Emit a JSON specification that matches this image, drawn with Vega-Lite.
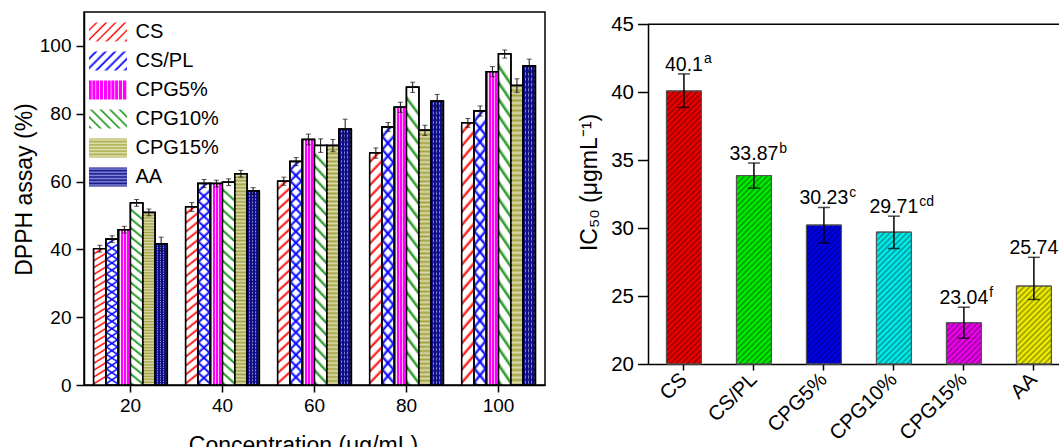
{
"$schema": "https://vega.github.io/schema/vega-lite/v6.json",
"background": "white",
"padding": {"left": 12, "top": 11, "right": 0, "bottom": 0},
"spacing": 32,
"config": {"font": "Liberation Sans", "view": {"stroke": null},
  "axis": {"domainColor": "black", "tickColor": "black", "labelColor": "black", "titleColor": "black", "titleFontWeight": "normal", "grid": false, "domainWidth": 1.5, "tickWidth": 1.5, "labelFont": "Liberation Sans", "titleFont": "Liberation Sans"}},
"params": [
 {"name": "lgCS", "value": {"gradient": "linear", "x1": 0, "y1": 0, "x2": 1.2, "y2": 0.6, "stops": [
   {"offset":0,"color":"#fff"},{"offset":0.1,"color":"#fff"},{"offset":0.14,"color":"#f00"},
   {"offset":0.1667,"color":"#fff"},{"offset":0.2667,"color":"#fff"},{"offset":0.3067,"color":"#f00"},
   {"offset":0.3333,"color":"#fff"},{"offset":0.4333,"color":"#fff"},{"offset":0.4733,"color":"#f00"},
   {"offset":0.5,"color":"#fff"},{"offset":0.6,"color":"#fff"},{"offset":0.64,"color":"#f00"},
   {"offset":0.6667,"color":"#fff"},{"offset":0.7667,"color":"#fff"},{"offset":0.8067,"color":"#f00"},
   {"offset":0.8333,"color":"#fff"},{"offset":0.9333,"color":"#fff"},{"offset":0.9733,"color":"#f00"},
   {"offset":1,"color":"#fff"}]}},
 {"name": "lgCSPL", "value": {"gradient": "linear", "x1": 0, "y1": 0, "x2": 1.2, "y2": 0.6, "stops": [
   {"offset":0,"color":"#fff"},{"offset":0.08,"color":"#fff"},{"offset":0.13,"color":"#00f"},
   {"offset":0.1667,"color":"#fff"},{"offset":0.2467,"color":"#fff"},{"offset":0.2967,"color":"#00f"},
   {"offset":0.3333,"color":"#fff"},{"offset":0.4133,"color":"#fff"},{"offset":0.4633,"color":"#00f"},
   {"offset":0.5,"color":"#fff"},{"offset":0.58,"color":"#fff"},{"offset":0.63,"color":"#00f"},
   {"offset":0.6667,"color":"#fff"},{"offset":0.7467,"color":"#fff"},{"offset":0.7967,"color":"#00f"},
   {"offset":0.8333,"color":"#fff"},{"offset":0.9133,"color":"#fff"},{"offset":0.9633,"color":"#00f"},
   {"offset":1,"color":"#fff"}]}},
 {"name": "lgM", "value": {"gradient": "linear", "x1": 0, "y1": 0, "x2": 1, "y2": 0, "stops": [
   {"offset":0,"color":"#f0f"},{"offset":0.06,"color":"#f0f"},{"offset":0.08,"color":"#fff"},
   {"offset":0.1,"color":"#f0f"},{"offset":0.16,"color":"#f0f"},{"offset":0.18,"color":"#fff"},
   {"offset":0.2,"color":"#f0f"},{"offset":0.26,"color":"#f0f"},{"offset":0.28,"color":"#fff"},
   {"offset":0.3,"color":"#f0f"},{"offset":0.36,"color":"#f0f"},{"offset":0.38,"color":"#fff"},
   {"offset":0.4,"color":"#f0f"},{"offset":0.46,"color":"#f0f"},{"offset":0.48,"color":"#fff"},
   {"offset":0.5,"color":"#f0f"},{"offset":0.56,"color":"#f0f"},{"offset":0.58,"color":"#fff"},
   {"offset":0.6,"color":"#f0f"},{"offset":0.66,"color":"#f0f"},{"offset":0.68,"color":"#fff"},
   {"offset":0.7,"color":"#f0f"},{"offset":0.76,"color":"#f0f"},{"offset":0.78,"color":"#fff"},
   {"offset":0.8,"color":"#f0f"},{"offset":0.86,"color":"#f0f"},{"offset":0.88,"color":"#fff"},
   {"offset":0.9,"color":"#f0f"},{"offset":0.96,"color":"#f0f"},{"offset":0.98,"color":"#fff"},
   {"offset":1,"color":"#f0f"}]}},
 {"name": "lgG", "value": {"gradient": "linear", "x1": 1, "y1": 0, "x2": -0.2, "y2": 0.6, "stops": [
   {"offset":0,"color":"#fff"},{"offset":0.09,"color":"#fff"},{"offset":0.135,"color":"#119011"},
   {"offset":0.1667,"color":"#fff"},{"offset":0.2567,"color":"#fff"},{"offset":0.3017,"color":"#119011"},
   {"offset":0.3333,"color":"#fff"},{"offset":0.4233,"color":"#fff"},{"offset":0.4683,"color":"#119011"},
   {"offset":0.5,"color":"#fff"},{"offset":0.59,"color":"#fff"},{"offset":0.635,"color":"#119011"},
   {"offset":0.6667,"color":"#fff"},{"offset":0.7567,"color":"#fff"},{"offset":0.8017,"color":"#119011"},
   {"offset":0.8333,"color":"#fff"},{"offset":0.9233,"color":"#fff"},{"offset":0.9683,"color":"#119011"},
   {"offset":1,"color":"#fff"}]}},
 {"name": "lgO", "value": {"gradient": "linear", "x1": 0, "y1": 0, "x2": 0, "y2": 1, "stops": [
   {"offset":0,"color":"#a9a943"},{"offset":0.0833,"color":"#e4e4b8"},{"offset":0.1667,"color":"#a9a943"},{"offset":0.25,"color":"#e4e4b8"},
   {"offset":0.3333,"color":"#a9a943"},{"offset":0.4167,"color":"#e4e4b8"},{"offset":0.5,"color":"#a9a943"},{"offset":0.5833,"color":"#e4e4b8"},
   {"offset":0.6667,"color":"#a9a943"},{"offset":0.75,"color":"#e4e4b8"},{"offset":0.8333,"color":"#a9a943"},{"offset":0.9167,"color":"#e4e4b8"},
   {"offset":1,"color":"#a9a943"}]}},
 {"name": "lgN", "value": {"gradient": "linear", "x1": 0, "y1": 0, "x2": 0, "y2": 1, "stops": [
   {"offset":0,"color":"#0d0d8a"},{"offset":0.0833,"color":"#8a8ad8"},{"offset":0.1667,"color":"#0d0d8a"},{"offset":0.25,"color":"#8a8ad8"},
   {"offset":0.3333,"color":"#0d0d8a"},{"offset":0.4167,"color":"#8a8ad8"},{"offset":0.5,"color":"#0d0d8a"},{"offset":0.5833,"color":"#8a8ad8"},
   {"offset":0.6667,"color":"#0d0d8a"},{"offset":0.75,"color":"#8a8ad8"},{"offset":0.8333,"color":"#0d0d8a"},{"offset":0.9167,"color":"#8a8ad8"},
   {"offset":1,"color":"#0d0d8a"}]}},
 {"name": "wdiag", "value": [
  {"offset":0,"color":"#fff"},{"offset":0.025,"color":"#fff"},{"offset":0.04,"color":"rgba(255,255,255,0)"},
  {"offset":0.05,"color":"#fff"},{"offset":0.075,"color":"#fff"},{"offset":0.09,"color":"rgba(255,255,255,0)"},
  {"offset":0.1,"color":"#fff"},{"offset":0.125,"color":"#fff"},{"offset":0.14,"color":"rgba(255,255,255,0)"},
  {"offset":0.15,"color":"#fff"},{"offset":0.175,"color":"#fff"},{"offset":0.19,"color":"rgba(255,255,255,0)"},
  {"offset":0.2,"color":"#fff"},{"offset":0.225,"color":"#fff"},{"offset":0.24,"color":"rgba(255,255,255,0)"},
  {"offset":0.25,"color":"#fff"},{"offset":0.275,"color":"#fff"},{"offset":0.29,"color":"rgba(255,255,255,0)"},
  {"offset":0.3,"color":"#fff"},{"offset":0.325,"color":"#fff"},{"offset":0.34,"color":"rgba(255,255,255,0)"},
  {"offset":0.35,"color":"#fff"},{"offset":0.375,"color":"#fff"},{"offset":0.39,"color":"rgba(255,255,255,0)"},
  {"offset":0.4,"color":"#fff"},{"offset":0.425,"color":"#fff"},{"offset":0.44,"color":"rgba(255,255,255,0)"},
  {"offset":0.45,"color":"#fff"},{"offset":0.475,"color":"#fff"},{"offset":0.49,"color":"rgba(255,255,255,0)"},
  {"offset":0.5,"color":"#fff"},{"offset":0.525,"color":"#fff"},{"offset":0.54,"color":"rgba(255,255,255,0)"},
  {"offset":0.55,"color":"#fff"},{"offset":0.575,"color":"#fff"},{"offset":0.59,"color":"rgba(255,255,255,0)"},
  {"offset":0.6,"color":"#fff"},{"offset":0.625,"color":"#fff"},{"offset":0.64,"color":"rgba(255,255,255,0)"},
  {"offset":0.65,"color":"#fff"},{"offset":0.675,"color":"#fff"},{"offset":0.69,"color":"rgba(255,255,255,0)"},
  {"offset":0.7,"color":"#fff"},{"offset":0.725,"color":"#fff"},{"offset":0.74,"color":"rgba(255,255,255,0)"},
  {"offset":0.75,"color":"#fff"},{"offset":0.775,"color":"#fff"},{"offset":0.79,"color":"rgba(255,255,255,0)"},
  {"offset":0.8,"color":"#fff"},{"offset":0.825,"color":"#fff"},{"offset":0.84,"color":"rgba(255,255,255,0)"},
  {"offset":0.85,"color":"#fff"},{"offset":0.875,"color":"#fff"},{"offset":0.89,"color":"rgba(255,255,255,0)"},
  {"offset":0.9,"color":"#fff"},{"offset":0.925,"color":"#fff"},{"offset":0.94,"color":"rgba(255,255,255,0)"},
  {"offset":0.95,"color":"#fff"},{"offset":0.975,"color":"#fff"},{"offset":0.99,"color":"rgba(255,255,255,0)"},
  {"offset":1,"color":"#fff"}]},
 {"name": "bdiag", "value": [
  {"offset":0,"color":"rgba(0,0,255,0)"},{"offset":0.025,"color":"rgba(0,0,255,0)"},{"offset":0.04,"color":"#00f"},
  {"offset":0.05,"color":"rgba(0,0,255,0)"},{"offset":0.075,"color":"rgba(0,0,255,0)"},{"offset":0.09,"color":"#00f"},
  {"offset":0.1,"color":"rgba(0,0,255,0)"},{"offset":0.125,"color":"rgba(0,0,255,0)"},{"offset":0.14,"color":"#00f"},
  {"offset":0.15,"color":"rgba(0,0,255,0)"},{"offset":0.175,"color":"rgba(0,0,255,0)"},{"offset":0.19,"color":"#00f"},
  {"offset":0.2,"color":"rgba(0,0,255,0)"},{"offset":0.225,"color":"rgba(0,0,255,0)"},{"offset":0.24,"color":"#00f"},
  {"offset":0.25,"color":"rgba(0,0,255,0)"},{"offset":0.275,"color":"rgba(0,0,255,0)"},{"offset":0.29,"color":"#00f"},
  {"offset":0.3,"color":"rgba(0,0,255,0)"},{"offset":0.325,"color":"rgba(0,0,255,0)"},{"offset":0.34,"color":"#00f"},
  {"offset":0.35,"color":"rgba(0,0,255,0)"},{"offset":0.375,"color":"rgba(0,0,255,0)"},{"offset":0.39,"color":"#00f"},
  {"offset":0.4,"color":"rgba(0,0,255,0)"},{"offset":0.425,"color":"rgba(0,0,255,0)"},{"offset":0.44,"color":"#00f"},
  {"offset":0.45,"color":"rgba(0,0,255,0)"},{"offset":0.475,"color":"rgba(0,0,255,0)"},{"offset":0.49,"color":"#00f"},
  {"offset":0.5,"color":"rgba(0,0,255,0)"},{"offset":0.525,"color":"rgba(0,0,255,0)"},{"offset":0.54,"color":"#00f"},
  {"offset":0.55,"color":"rgba(0,0,255,0)"},{"offset":0.575,"color":"rgba(0,0,255,0)"},{"offset":0.59,"color":"#00f"},
  {"offset":0.6,"color":"rgba(0,0,255,0)"},{"offset":0.625,"color":"rgba(0,0,255,0)"},{"offset":0.64,"color":"#00f"},
  {"offset":0.65,"color":"rgba(0,0,255,0)"},{"offset":0.675,"color":"rgba(0,0,255,0)"},{"offset":0.69,"color":"#00f"},
  {"offset":0.7,"color":"rgba(0,0,255,0)"},{"offset":0.725,"color":"rgba(0,0,255,0)"},{"offset":0.74,"color":"#00f"},
  {"offset":0.75,"color":"rgba(0,0,255,0)"},{"offset":0.775,"color":"rgba(0,0,255,0)"},{"offset":0.79,"color":"#00f"},
  {"offset":0.8,"color":"rgba(0,0,255,0)"},{"offset":0.825,"color":"rgba(0,0,255,0)"},{"offset":0.84,"color":"#00f"},
  {"offset":0.85,"color":"rgba(0,0,255,0)"},{"offset":0.875,"color":"rgba(0,0,255,0)"},{"offset":0.89,"color":"#00f"},
  {"offset":0.9,"color":"rgba(0,0,255,0)"},{"offset":0.925,"color":"rgba(0,0,255,0)"},{"offset":0.94,"color":"#00f"},
  {"offset":0.95,"color":"rgba(0,0,255,0)"},{"offset":0.975,"color":"rgba(0,0,255,0)"},{"offset":0.99,"color":"#00f"},
  {"offset":1,"color":"rgba(0,0,255,0)"}]},
 {"name": "vstripe", "value": [
  {"offset":0,"color":"rgba(255,255,255,0)"},{"offset":0.13,"color":"rgba(255,255,255,0)"},{"offset":0.19,"color":"rgba(255,255,255,0.95)"},
  {"offset":0.25,"color":"rgba(255,255,255,0)"},{"offset":0.38,"color":"rgba(255,255,255,0)"},{"offset":0.44,"color":"rgba(255,255,255,0.95)"},
  {"offset":0.5,"color":"rgba(255,255,255,0)"},{"offset":0.63,"color":"rgba(255,255,255,0)"},{"offset":0.69,"color":"rgba(255,255,255,0.95)"},
  {"offset":0.75,"color":"rgba(255,255,255,0)"},{"offset":0.88,"color":"rgba(255,255,255,0)"},{"offset":0.94,"color":"rgba(255,255,255,0.95)"},
  {"offset":1,"color":"rgba(255,255,255,0)"}]},
 {"name": "navycols", "value": [
  {"offset":0,"color":"#0d0d8a"},{"offset":0.16,"color":"#0d0d8a"},{"offset":0.16,"color":"rgba(13,13,138,0)"},{"offset":0.25,"color":"rgba(13,13,138,0)"},
  {"offset":0.25,"color":"#0d0d8a"},{"offset":0.41,"color":"#0d0d8a"},{"offset":0.41,"color":"rgba(13,13,138,0)"},{"offset":0.5,"color":"rgba(13,13,138,0)"},
  {"offset":0.5,"color":"#0d0d8a"},{"offset":0.66,"color":"#0d0d8a"},{"offset":0.66,"color":"rgba(13,13,138,0)"},{"offset":0.75,"color":"rgba(13,13,138,0)"},
  {"offset":0.75,"color":"#0d0d8a"},{"offset":0.91,"color":"#0d0d8a"},{"offset":0.91,"color":"rgba(13,13,138,0)"},{"offset":1,"color":"rgba(13,13,138,0)"}]},
 {"name": "wstripe", "value": [
  {"offset":0,"color":"rgba(255,255,255,0)"},{"offset":0.0083,"color":"rgba(255,255,255,0.6)"},{"offset":0.0167,"color":"rgba(255,255,255,0)"},{"offset":0.025,"color":"rgba(255,255,255,0.6)"},
  {"offset":0.0333,"color":"rgba(255,255,255,0)"},{"offset":0.0417,"color":"rgba(255,255,255,0.6)"},{"offset":0.05,"color":"rgba(255,255,255,0)"},{"offset":0.0583,"color":"rgba(255,255,255,0.6)"},
  {"offset":0.0667,"color":"rgba(255,255,255,0)"},{"offset":0.075,"color":"rgba(255,255,255,0.6)"},{"offset":0.0833,"color":"rgba(255,255,255,0)"},{"offset":0.0917,"color":"rgba(255,255,255,0.6)"},
  {"offset":0.1,"color":"rgba(255,255,255,0)"},{"offset":0.1083,"color":"rgba(255,255,255,0.6)"},{"offset":0.1167,"color":"rgba(255,255,255,0)"},{"offset":0.125,"color":"rgba(255,255,255,0.6)"},
  {"offset":0.1333,"color":"rgba(255,255,255,0)"},{"offset":0.1417,"color":"rgba(255,255,255,0.6)"},{"offset":0.15,"color":"rgba(255,255,255,0)"},{"offset":0.1583,"color":"rgba(255,255,255,0.6)"},
  {"offset":0.1667,"color":"rgba(255,255,255,0)"},{"offset":0.175,"color":"rgba(255,255,255,0.6)"},{"offset":0.1833,"color":"rgba(255,255,255,0)"},{"offset":0.1917,"color":"rgba(255,255,255,0.6)"},
  {"offset":0.2,"color":"rgba(255,255,255,0)"},{"offset":0.2083,"color":"rgba(255,255,255,0.6)"},{"offset":0.2167,"color":"rgba(255,255,255,0)"},{"offset":0.225,"color":"rgba(255,255,255,0.6)"},
  {"offset":0.2333,"color":"rgba(255,255,255,0)"},{"offset":0.2417,"color":"rgba(255,255,255,0.6)"},{"offset":0.25,"color":"rgba(255,255,255,0)"},{"offset":0.2583,"color":"rgba(255,255,255,0.6)"},
  {"offset":0.2667,"color":"rgba(255,255,255,0)"},{"offset":0.275,"color":"rgba(255,255,255,0.6)"},{"offset":0.2833,"color":"rgba(255,255,255,0)"},{"offset":0.2917,"color":"rgba(255,255,255,0.6)"},
  {"offset":0.3,"color":"rgba(255,255,255,0)"},{"offset":0.3083,"color":"rgba(255,255,255,0.6)"},{"offset":0.3167,"color":"rgba(255,255,255,0)"},{"offset":0.325,"color":"rgba(255,255,255,0.6)"},
  {"offset":0.3333,"color":"rgba(255,255,255,0)"},{"offset":0.3417,"color":"rgba(255,255,255,0.6)"},{"offset":0.35,"color":"rgba(255,255,255,0)"},{"offset":0.3583,"color":"rgba(255,255,255,0.6)"},
  {"offset":0.3667,"color":"rgba(255,255,255,0)"},{"offset":0.375,"color":"rgba(255,255,255,0.6)"},{"offset":0.3833,"color":"rgba(255,255,255,0)"},{"offset":0.3917,"color":"rgba(255,255,255,0.6)"},
  {"offset":0.4,"color":"rgba(255,255,255,0)"},{"offset":0.4083,"color":"rgba(255,255,255,0.6)"},{"offset":0.4167,"color":"rgba(255,255,255,0)"},{"offset":0.425,"color":"rgba(255,255,255,0.6)"},
  {"offset":0.4333,"color":"rgba(255,255,255,0)"},{"offset":0.4417,"color":"rgba(255,255,255,0.6)"},{"offset":0.45,"color":"rgba(255,255,255,0)"},{"offset":0.4583,"color":"rgba(255,255,255,0.6)"},
  {"offset":0.4667,"color":"rgba(255,255,255,0)"},{"offset":0.475,"color":"rgba(255,255,255,0.6)"},{"offset":0.4833,"color":"rgba(255,255,255,0)"},{"offset":0.4917,"color":"rgba(255,255,255,0.6)"},
  {"offset":0.5,"color":"rgba(255,255,255,0)"},{"offset":0.5083,"color":"rgba(255,255,255,0.6)"},{"offset":0.5167,"color":"rgba(255,255,255,0)"},{"offset":0.525,"color":"rgba(255,255,255,0.6)"},
  {"offset":0.5333,"color":"rgba(255,255,255,0)"},{"offset":0.5417,"color":"rgba(255,255,255,0.6)"},{"offset":0.55,"color":"rgba(255,255,255,0)"},{"offset":0.5583,"color":"rgba(255,255,255,0.6)"},
  {"offset":0.5667,"color":"rgba(255,255,255,0)"},{"offset":0.575,"color":"rgba(255,255,255,0.6)"},{"offset":0.5833,"color":"rgba(255,255,255,0)"},{"offset":0.5917,"color":"rgba(255,255,255,0.6)"},
  {"offset":0.6,"color":"rgba(255,255,255,0)"},{"offset":0.6083,"color":"rgba(255,255,255,0.6)"},{"offset":0.6167,"color":"rgba(255,255,255,0)"},{"offset":0.625,"color":"rgba(255,255,255,0.6)"},
  {"offset":0.6333,"color":"rgba(255,255,255,0)"},{"offset":0.6417,"color":"rgba(255,255,255,0.6)"},{"offset":0.65,"color":"rgba(255,255,255,0)"},{"offset":0.6583,"color":"rgba(255,255,255,0.6)"},
  {"offset":0.6667,"color":"rgba(255,255,255,0)"},{"offset":0.675,"color":"rgba(255,255,255,0.6)"},{"offset":0.6833,"color":"rgba(255,255,255,0)"},{"offset":0.6917,"color":"rgba(255,255,255,0.6)"},
  {"offset":0.7,"color":"rgba(255,255,255,0)"},{"offset":0.7083,"color":"rgba(255,255,255,0.6)"},{"offset":0.7167,"color":"rgba(255,255,255,0)"},{"offset":0.725,"color":"rgba(255,255,255,0.6)"},
  {"offset":0.7333,"color":"rgba(255,255,255,0)"},{"offset":0.7417,"color":"rgba(255,255,255,0.6)"},{"offset":0.75,"color":"rgba(255,255,255,0)"},{"offset":0.7583,"color":"rgba(255,255,255,0.6)"},
  {"offset":0.7667,"color":"rgba(255,255,255,0)"},{"offset":0.775,"color":"rgba(255,255,255,0.6)"},{"offset":0.7833,"color":"rgba(255,255,255,0)"},{"offset":0.7917,"color":"rgba(255,255,255,0.6)"},
  {"offset":0.8,"color":"rgba(255,255,255,0)"},{"offset":0.8083,"color":"rgba(255,255,255,0.6)"},{"offset":0.8167,"color":"rgba(255,255,255,0)"},{"offset":0.825,"color":"rgba(255,255,255,0.6)"},
  {"offset":0.8333,"color":"rgba(255,255,255,0)"},{"offset":0.8417,"color":"rgba(255,255,255,0.6)"},{"offset":0.85,"color":"rgba(255,255,255,0)"},{"offset":0.8583,"color":"rgba(255,255,255,0.6)"},
  {"offset":0.8667,"color":"rgba(255,255,255,0)"},{"offset":0.875,"color":"rgba(255,255,255,0.6)"},{"offset":0.8833,"color":"rgba(255,255,255,0)"},{"offset":0.8917,"color":"rgba(255,255,255,0.6)"},
  {"offset":0.9,"color":"rgba(255,255,255,0)"},{"offset":0.9083,"color":"rgba(255,255,255,0.6)"},{"offset":0.9167,"color":"rgba(255,255,255,0)"},{"offset":0.925,"color":"rgba(255,255,255,0.6)"},
  {"offset":0.9333,"color":"rgba(255,255,255,0)"},{"offset":0.9417,"color":"rgba(255,255,255,0.6)"},{"offset":0.95,"color":"rgba(255,255,255,0)"},{"offset":0.9583,"color":"rgba(255,255,255,0.6)"},
  {"offset":0.9667,"color":"rgba(255,255,255,0)"},{"offset":0.975,"color":"rgba(255,255,255,0.6)"},{"offset":0.9833,"color":"rgba(255,255,255,0)"},{"offset":0.9917,"color":"rgba(255,255,255,0.6)"},
  {"offset":1,"color":"rgba(255,255,255,0)"}]},
 {"name": "hatch", "value": [
  {"offset":0,"color":"rgba(0,0,0,0)"},{"offset":0.0083,"color":"rgba(0,0,0,0.4)"},{"offset":0.0167,"color":"rgba(0,0,0,0)"},{"offset":0.025,"color":"rgba(0,0,0,0.4)"},
  {"offset":0.0333,"color":"rgba(0,0,0,0)"},{"offset":0.0417,"color":"rgba(0,0,0,0.4)"},{"offset":0.05,"color":"rgba(0,0,0,0)"},{"offset":0.0583,"color":"rgba(0,0,0,0.4)"},
  {"offset":0.0667,"color":"rgba(0,0,0,0)"},{"offset":0.075,"color":"rgba(0,0,0,0.4)"},{"offset":0.0833,"color":"rgba(0,0,0,0)"},{"offset":0.0917,"color":"rgba(0,0,0,0.4)"},
  {"offset":0.1,"color":"rgba(0,0,0,0)"},{"offset":0.1083,"color":"rgba(0,0,0,0.4)"},{"offset":0.1167,"color":"rgba(0,0,0,0)"},{"offset":0.125,"color":"rgba(0,0,0,0.4)"},
  {"offset":0.1333,"color":"rgba(0,0,0,0)"},{"offset":0.1417,"color":"rgba(0,0,0,0.4)"},{"offset":0.15,"color":"rgba(0,0,0,0)"},{"offset":0.1583,"color":"rgba(0,0,0,0.4)"},
  {"offset":0.1667,"color":"rgba(0,0,0,0)"},{"offset":0.175,"color":"rgba(0,0,0,0.4)"},{"offset":0.1833,"color":"rgba(0,0,0,0)"},{"offset":0.1917,"color":"rgba(0,0,0,0.4)"},
  {"offset":0.2,"color":"rgba(0,0,0,0)"},{"offset":0.2083,"color":"rgba(0,0,0,0.4)"},{"offset":0.2167,"color":"rgba(0,0,0,0)"},{"offset":0.225,"color":"rgba(0,0,0,0.4)"},
  {"offset":0.2333,"color":"rgba(0,0,0,0)"},{"offset":0.2417,"color":"rgba(0,0,0,0.4)"},{"offset":0.25,"color":"rgba(0,0,0,0)"},{"offset":0.2583,"color":"rgba(0,0,0,0.4)"},
  {"offset":0.2667,"color":"rgba(0,0,0,0)"},{"offset":0.275,"color":"rgba(0,0,0,0.4)"},{"offset":0.2833,"color":"rgba(0,0,0,0)"},{"offset":0.2917,"color":"rgba(0,0,0,0.4)"},
  {"offset":0.3,"color":"rgba(0,0,0,0)"},{"offset":0.3083,"color":"rgba(0,0,0,0.4)"},{"offset":0.3167,"color":"rgba(0,0,0,0)"},{"offset":0.325,"color":"rgba(0,0,0,0.4)"},
  {"offset":0.3333,"color":"rgba(0,0,0,0)"},{"offset":0.3417,"color":"rgba(0,0,0,0.4)"},{"offset":0.35,"color":"rgba(0,0,0,0)"},{"offset":0.3583,"color":"rgba(0,0,0,0.4)"},
  {"offset":0.3667,"color":"rgba(0,0,0,0)"},{"offset":0.375,"color":"rgba(0,0,0,0.4)"},{"offset":0.3833,"color":"rgba(0,0,0,0)"},{"offset":0.3917,"color":"rgba(0,0,0,0.4)"},
  {"offset":0.4,"color":"rgba(0,0,0,0)"},{"offset":0.4083,"color":"rgba(0,0,0,0.4)"},{"offset":0.4167,"color":"rgba(0,0,0,0)"},{"offset":0.425,"color":"rgba(0,0,0,0.4)"},
  {"offset":0.4333,"color":"rgba(0,0,0,0)"},{"offset":0.4417,"color":"rgba(0,0,0,0.4)"},{"offset":0.45,"color":"rgba(0,0,0,0)"},{"offset":0.4583,"color":"rgba(0,0,0,0.4)"},
  {"offset":0.4667,"color":"rgba(0,0,0,0)"},{"offset":0.475,"color":"rgba(0,0,0,0.4)"},{"offset":0.4833,"color":"rgba(0,0,0,0)"},{"offset":0.4917,"color":"rgba(0,0,0,0.4)"},
  {"offset":0.5,"color":"rgba(0,0,0,0)"},{"offset":0.5083,"color":"rgba(0,0,0,0.4)"},{"offset":0.5167,"color":"rgba(0,0,0,0)"},{"offset":0.525,"color":"rgba(0,0,0,0.4)"},
  {"offset":0.5333,"color":"rgba(0,0,0,0)"},{"offset":0.5417,"color":"rgba(0,0,0,0.4)"},{"offset":0.55,"color":"rgba(0,0,0,0)"},{"offset":0.5583,"color":"rgba(0,0,0,0.4)"},
  {"offset":0.5667,"color":"rgba(0,0,0,0)"},{"offset":0.575,"color":"rgba(0,0,0,0.4)"},{"offset":0.5833,"color":"rgba(0,0,0,0)"},{"offset":0.5917,"color":"rgba(0,0,0,0.4)"},
  {"offset":0.6,"color":"rgba(0,0,0,0)"},{"offset":0.6083,"color":"rgba(0,0,0,0.4)"},{"offset":0.6167,"color":"rgba(0,0,0,0)"},{"offset":0.625,"color":"rgba(0,0,0,0.4)"},
  {"offset":0.6333,"color":"rgba(0,0,0,0)"},{"offset":0.6417,"color":"rgba(0,0,0,0.4)"},{"offset":0.65,"color":"rgba(0,0,0,0)"},{"offset":0.6583,"color":"rgba(0,0,0,0.4)"},
  {"offset":0.6667,"color":"rgba(0,0,0,0)"},{"offset":0.675,"color":"rgba(0,0,0,0.4)"},{"offset":0.6833,"color":"rgba(0,0,0,0)"},{"offset":0.6917,"color":"rgba(0,0,0,0.4)"},
  {"offset":0.7,"color":"rgba(0,0,0,0)"},{"offset":0.7083,"color":"rgba(0,0,0,0.4)"},{"offset":0.7167,"color":"rgba(0,0,0,0)"},{"offset":0.725,"color":"rgba(0,0,0,0.4)"},
  {"offset":0.7333,"color":"rgba(0,0,0,0)"},{"offset":0.7417,"color":"rgba(0,0,0,0.4)"},{"offset":0.75,"color":"rgba(0,0,0,0)"},{"offset":0.7583,"color":"rgba(0,0,0,0.4)"},
  {"offset":0.7667,"color":"rgba(0,0,0,0)"},{"offset":0.775,"color":"rgba(0,0,0,0.4)"},{"offset":0.7833,"color":"rgba(0,0,0,0)"},{"offset":0.7917,"color":"rgba(0,0,0,0.4)"},
  {"offset":0.8,"color":"rgba(0,0,0,0)"},{"offset":0.8083,"color":"rgba(0,0,0,0.4)"},{"offset":0.8167,"color":"rgba(0,0,0,0)"},{"offset":0.825,"color":"rgba(0,0,0,0.4)"},
  {"offset":0.8333,"color":"rgba(0,0,0,0)"},{"offset":0.8417,"color":"rgba(0,0,0,0.4)"},{"offset":0.85,"color":"rgba(0,0,0,0)"},{"offset":0.8583,"color":"rgba(0,0,0,0.4)"},
  {"offset":0.8667,"color":"rgba(0,0,0,0)"},{"offset":0.875,"color":"rgba(0,0,0,0.4)"},{"offset":0.8833,"color":"rgba(0,0,0,0)"},{"offset":0.8917,"color":"rgba(0,0,0,0.4)"},
  {"offset":0.9,"color":"rgba(0,0,0,0)"},{"offset":0.9083,"color":"rgba(0,0,0,0.4)"},{"offset":0.9167,"color":"rgba(0,0,0,0)"},{"offset":0.925,"color":"rgba(0,0,0,0.4)"},
  {"offset":0.9333,"color":"rgba(0,0,0,0)"},{"offset":0.9417,"color":"rgba(0,0,0,0.4)"},{"offset":0.95,"color":"rgba(0,0,0,0)"},{"offset":0.9583,"color":"rgba(0,0,0,0.4)"},
  {"offset":0.9667,"color":"rgba(0,0,0,0)"},{"offset":0.975,"color":"rgba(0,0,0,0.4)"},{"offset":0.9833,"color":"rgba(0,0,0,0)"},{"offset":0.9917,"color":"rgba(0,0,0,0.4)"},
  {"offset":1,"color":"rgba(0,0,0,0)"}]}
],
"datasets": {
 "dpph": [
  {"conc":"20","series":"CS","value":40.2,"lo":39.2,"hi":41.2},
  {"conc":"20","series":"CS/PL","value":43.0,"lo":42.0,"hi":44.0},
  {"conc":"20","series":"CPG5%","value":45.8,"lo":44.8,"hi":46.8},
  {"conc":"20","series":"CPG10%","value":53.7,"lo":52.7,"hi":54.7},
  {"conc":"20","series":"CPG15%","value":50.9,"lo":49.9,"hi":51.9},
  {"conc":"20","series":"AA","value":41.6,"lo":39.6,"hi":43.6},
  {"conc":"40","series":"CS","value":52.5,"lo":51.2,"hi":53.8},
  {"conc":"40","series":"CS/PL","value":59.4,"lo":58.2,"hi":60.6},
  {"conc":"40","series":"CPG5%","value":59.4,"lo":58.4,"hi":60.4},
  {"conc":"40","series":"CPG10%","value":59.8,"lo":58.8,"hi":60.8},
  {"conc":"40","series":"CPG15%","value":62.3,"lo":61.3,"hi":63.3},
  {"conc":"40","series":"AA","value":57.2,"lo":56.2,"hi":58.2},
  {"conc":"60","series":"CS","value":60.1,"lo":58.9,"hi":61.3},
  {"conc":"60","series":"CS/PL","value":65.9,"lo":64.7,"hi":67.1},
  {"conc":"60","series":"CPG5%","value":72.4,"lo":70.8,"hi":74.0},
  {"conc":"60","series":"CPG10%","value":70.6,"lo":68.6,"hi":72.6},
  {"conc":"60","series":"CPG15%","value":70.6,"lo":68.8,"hi":72.4},
  {"conc":"60","series":"AA","value":75.4,"lo":72.4,"hi":78.4},
  {"conc":"80","series":"CS","value":68.4,"lo":66.9,"hi":69.9},
  {"conc":"80","series":"CS/PL","value":76.1,"lo":74.8,"hi":77.4},
  {"conc":"80","series":"CPG5%","value":81.9,"lo":80.4,"hi":83.4},
  {"conc":"80","series":"CPG10%","value":87.8,"lo":86.3,"hi":89.3},
  {"conc":"80","series":"CPG15%","value":75.1,"lo":73.6,"hi":76.6},
  {"conc":"80","series":"AA","value":83.7,"lo":81.7,"hi":85.7},
  {"conc":"100","series":"CS","value":77.3,"lo":76.0,"hi":78.6},
  {"conc":"100","series":"CS/PL","value":80.8,"lo":79.3,"hi":82.3},
  {"conc":"100","series":"CPG5%","value":92.4,"lo":90.9,"hi":93.9},
  {"conc":"100","series":"CPG10%","value":97.6,"lo":96.4,"hi":98.8},
  {"conc":"100","series":"CPG15%","value":88.3,"lo":86.3,"hi":90.3},
  {"conc":"100","series":"AA","value":94.1,"lo":92.1,"hi":96.1}
 ],
 "ic50": [
  {"sample":"CS","ic50":40.1,"lo":38.88,"hi":41.35,"label":"40.1","sup":"a"},
  {"sample":"CS/PL","ic50":33.87,"lo":32.94,"hi":34.79,"label":"33.87","sup":"b"},
  {"sample":"CPG5%","ic50":30.23,"lo":28.9,"hi":31.52,"label":"30.23","sup":"c"},
  {"sample":"CPG10%","ic50":29.71,"lo":28.5,"hi":30.88,"label":"29.71","sup":"cd"},
  {"sample":"CPG15%","ic50":23.04,"lo":21.9,"hi":24.18,"label":"23.04","sup":"f"},
  {"sample":"AA","ic50":25.74,"lo":24.75,"hi":27.85,"label":"25.74","sup":"e"}
 ]
},
"hconcat": [
 {
  "width": 461, "height": 373,
  "view": {"stroke": "black", "strokeWidth": 1.5},
  "data": {"name": "dpph"},
  "encoding": {
   "x": {"field": "conc", "type": "ordinal", "sort": ["20","40","60","80","100"],
     "scale": {"paddingInner": 0.2, "paddingOuter": 0.105},
     "axis": {"title": "Concentration (μg/mL)", "titleFontSize": 23, "titleX": 219, "titleY": 49, "titleBaseline": "top", "labelAngle": 0, "labelFontSize": 19, "tickSize": 7, "labelPadding": 4, "bandPosition": 0.5}},
   "xOffset": {"field": "series", "type": "nominal", "scale": {"domain": ["CS","CS/PL","CPG5%","CPG10%","CPG15%","AA"], "paddingInner": 0, "paddingOuter": 0}}
  },
  "layer": [
   {"mark": {"type": "bar", "stroke": "black", "strokeWidth": 1.5,
     "fill": {"expr": "(datum.series || datum.value) === 'CS' ? lgCS : (datum.series || datum.value) === 'CS/PL' ? lgCSPL : (datum.series || datum.value) === 'CPG5%' ? lgM : (datum.series || datum.value) === 'CPG10%' ? lgG : (datum.series || datum.value) === 'CPG15%' ? lgO : lgN"}},
    "encoding": {
     "y": {"field": "value", "type": "quantitative", "scale": {"domain": [0, 110], "nice": false},
       "axis": {"title": "DPPH assay (%)", "titleFontSize": 23, "titleY": 177, "titlePadding": 3, "values": [0,10,20,30,40,50,60,70,80,90,100], "labelExpr": "datum.value % 20 === 0 ? datum.label : ''", "labelFontSize": 19, "labelPadding": 5, "tickSize": {"condition": {"test": "datum.value % 20 === 0", "value": 8}, "value": 4}}},
     "opacity": {"field": "series", "type": "nominal", "sort": ["CS","CS/PL","CPG5%","CPG10%","CPG15%","AA"],
       "scale": {"range": [1,1,1,1,1,1]},
       "legend": {"orient": "none", "legendX": 8, "legendY": 4, "title": null, "padding": 0,
         "symbolType": "M-1.2667,-0.6333H1.2667V0.6333H-1.2667Z", "symbolSize": 900, "symbolStrokeColor": "black", "symbolStrokeWidth": 1.5,
         "labelFontSize": 20, "labelFont": "Liberation Sans", "labelColor": "black", "labelOffset": 11.5, "rowPadding": 0}}
    }},
   {"mark": {"type": "bar", "stroke": "black", "strokeWidth": 1.5},
    "encoding": {
     "y": {"field": "value", "type": "quantitative"},
     "color": {"field": "series", "type": "nominal",
       "scale": {"domain": ["CS","CS/PL","CPG5%","CPG10%","CPG15%","AA"], "range": ["#ff0000","#0000ff","#ff00ff","#119011","#a3a33e","#0d0d8a"]}, "legend": null}}},
   {"mark": {"type": "bar", "stroke": "black", "strokeWidth": 1.5,
     "fill": {"expr": "datum.series === 'CS' || datum.series === 'CS/PL' ? {gradient: 'linear', x1: 0, y1: 0, x2: 0.055, y2: 1, stops: wdiag} : datum.series === 'CPG10%' ? {gradient: 'linear', x1: 0.055, y1: 0, x2: 0, y2: 1, stops: wdiag} : datum.series === 'CPG5%' ? {gradient: 'linear', x1: 0, y1: 0, x2: 1, y2: 0, stops: vstripe} : {gradient: 'linear', x1: 0, y1: 0, x2: 0, y2: 1, stops: wstripe}"}},
    "encoding": {"y": {"field": "value", "type": "quantitative"}}},
   {"transform": [{"filter": "datum.series === 'CS/PL' || datum.series === 'AA'"}],
    "mark": {"type": "bar", "stroke": "black", "strokeWidth": 1.5,
     "fill": {"expr": "datum.series === 'CS/PL' ? {gradient: 'linear', x1: 0.055, y1: 0, x2: 0, y2: 1, stops: bdiag} : {gradient: 'linear', x1: 0, y1: 0, x2: 1, y2: 0, stops: navycols}"}},
    "encoding": {"y": {"field": "value", "type": "quantitative"}}},
   {"mark": {"type": "rule", "color": "#111", "strokeWidth": 1},
    "encoding": {"y": {"field": "lo", "type": "quantitative"}, "y2": {"field": "hi"}}},
   {"mark": {"type": "tick", "color": "#111", "thickness": 1, "size": 5},
    "encoding": {"y": {"field": "hi", "type": "quantitative"}}},
   {"mark": {"type": "tick", "color": "#111", "thickness": 1, "size": 5},
    "encoding": {"y": {"field": "lo", "type": "quantitative"}}}
  ]
 },
 {
  "width": 411, "height": 352,
  "data": {"name": "ic50"},
  "layer": [
   {"data": {"values": [{}]}, "mark": {"type": "rule", "color": "black", "strokeWidth": 1.5},
    "encoding": {"y": {"datum": 45, "type": "quantitative"}}},
   {"mark": {"type": "bar", "stroke": "#555", "strokeWidth": 1},
    "encoding": {
     "x": {"field": "sample", "type": "nominal", "sort": ["CS","CS/PL","CPG5%","CPG10%","CPG15%","AA"],
       "scale": {"paddingInner": 0.5, "paddingOuter": 0.186, "align": 0.708},
       "axis": {"title": null, "labelAngle": -45, "labelAlign": "right", "labelBaseline": "middle", "labelFontSize": 20.5, "tickSize": 6, "labelPadding": 6, "bandPosition": 0.5}},
     "y": {"field": "ic50", "type": "quantitative", "scale": {"domain": [20, 45], "range": [352, 12.3], "nice": false, "zero": false},
       "axis": {"title": "IC₅₀ (μgmL⁻¹)", "titleFontSize": 23, "titleY": 170, "titlePadding": 9, "values": [20,22.5,25,27.5,30,32.5,35,37.5,40,42.5,45], "labelExpr": "datum.value % 5 === 0 ? datum.label : ''", "labelFontSize": 20.5, "labelPadding": 4, "tickSize": {"condition": {"test": "datum.value % 5 === 0", "value": 10.5}, "value": 5}}},
     "y2": {"datum": 20},
     "fill": {"field": "sample", "type": "nominal", "scale": {"domain": ["CS","CS/PL","CPG5%","CPG10%","CPG15%","AA"], "range": ["#ff0000","#00ff00","#0000ff","#00ffff","#ff00ff","#ffff00"]}, "legend": null}
    }},
   {"mark": {"type": "bar", "stroke": "#555", "strokeWidth": 1,
     "fill": {"expr": "{gradient: 'linear', x1: 0, y1: 0, x2: 35 / ((datum.ic50 - 20) * 13.58) * 342 / ((datum.ic50 - 20) * 13.58 + 1225 / ((datum.ic50 - 20) * 13.58)), y2: 342 / ((datum.ic50 - 20) * 13.58 + 1225 / ((datum.ic50 - 20) * 13.58)), stops: hatch}"}},
    "encoding": {
     "x": {"field": "sample", "type": "nominal", "sort": ["CS","CS/PL","CPG5%","CPG10%","CPG15%","AA"]},
     "y": {"field": "ic50", "type": "quantitative"}, "y2": {"datum": 20}}},
   {"mark": {"type": "rule", "color": "black", "strokeWidth": 1.5},
    "encoding": {
     "x": {"field": "sample", "type": "nominal", "sort": ["CS","CS/PL","CPG5%","CPG10%","CPG15%","AA"]},
     "y": {"field": "lo", "type": "quantitative"}, "y2": {"field": "hi"}}},
   {"mark": {"type": "tick", "color": "black", "thickness": 1.5, "size": 12},
    "encoding": {
     "x": {"field": "sample", "type": "nominal", "sort": ["CS","CS/PL","CPG5%","CPG10%","CPG15%","AA"]},
     "y": {"field": "hi", "type": "quantitative"}}},
   {"mark": {"type": "tick", "color": "black", "thickness": 1.5, "size": 12},
    "encoding": {
     "x": {"field": "sample", "type": "nominal", "sort": ["CS","CS/PL","CPG5%","CPG10%","CPG15%","AA"]},
     "y": {"field": "lo", "type": "quantitative"}}},
   {"mark": {"type": "text", "color": "black", "fontSize": 19.5, "baseline": "alphabetic", "align": "center", "dy": -3},
    "encoding": {
     "x": {"field": "sample", "type": "nominal", "sort": ["CS","CS/PL","CPG5%","CPG10%","CPG15%","AA"]},
     "y": {"field": "hi", "type": "quantitative"}, "text": {"field": "label"}}},
   {"mark": {"type": "text", "color": "black", "fontSize": 14, "baseline": "alphabetic", "align": "left", "dy": -10.5,
     "dx": {"expr": "((length(datum.label) - 1) * 0.556 + 0.278) * 9.75 + 1"}},
    "encoding": {
     "x": {"field": "sample", "type": "nominal", "sort": ["CS","CS/PL","CPG5%","CPG10%","CPG15%","AA"]},
     "y": {"field": "hi", "type": "quantitative"}, "text": {"field": "sup"}}}
  ]
 }
]
}
